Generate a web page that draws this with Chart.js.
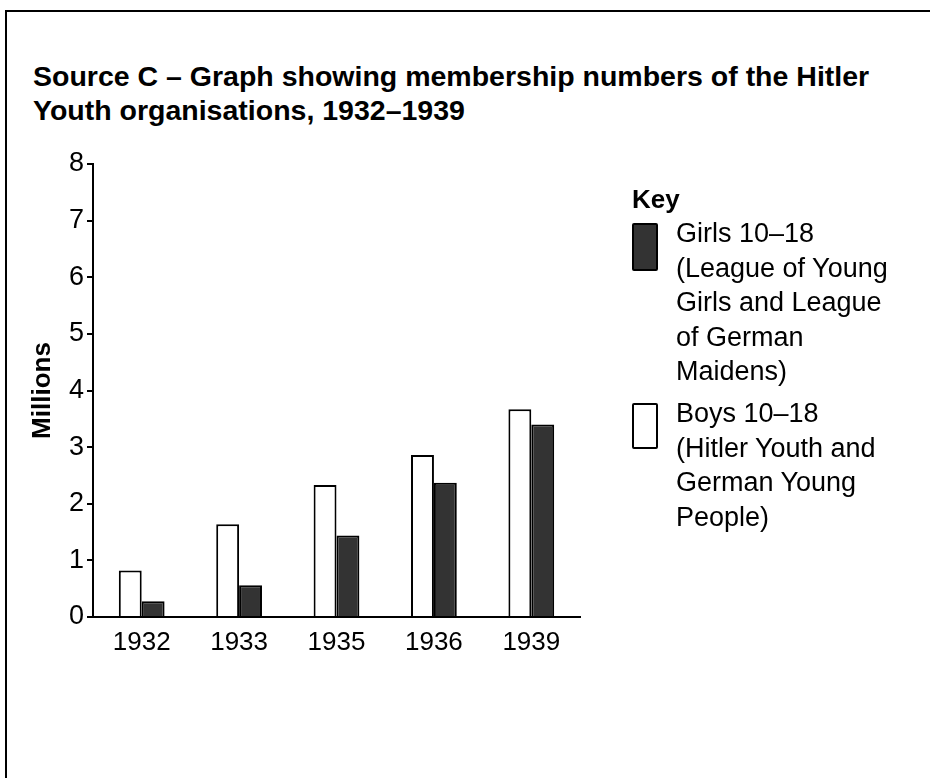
<!DOCTYPE html>
<html>
<head>
<meta charset="utf-8">
<script src="https://cdn.jsdelivr.net/npm/chart.js@4/dist/chart.umd.min.js"></script>
<style>
    html, body { margin: 0; padding: 0; background: #fff; }
    body { width: 930px; height: 778px; position: relative; overflow: hidden; font-family: "Liberation Sans", Arial, sans-serif; color: #000; }
    .frame { position: absolute; left: 5px; top: 10px; width: 940px; height: 800px; border-top: 2px solid #000; border-left: 2px solid #000; }
    .title { position: absolute; left: 33px; top: 59px; font-size: 28.5px; font-weight: bold; line-height: 34px; white-space: nowrap; }
    .chart-box { position: absolute; left: 0; top: 0; width: 930px; height: 778px; }
    .key-title { position: absolute; left: 632px; top: 184px; font-size: 26px; font-weight: bold; line-height: 30px; }
    .swatch { position: absolute; left: 632px; width: 22px; border: 2px solid #000; border-radius: 2px; }
    .key-text { position: absolute; left: 676px; font-size: 27px; line-height: 34.5px; white-space: nowrap; }
</style>
</head>
<body>
<div class="frame"></div>
<div class="title">Source C – Graph showing membership numbers of the Hitler<br>Youth organisations, 1932–1939</div>
<div class="chart-box"><canvas id="youthChart"></canvas></div>

<div class="key-title">Key</div>
<div class="swatch" style="top:223px;height:44px;background:#333;"></div>
<div class="key-text" style="top:216px;">Girls 10–18<br>(League of Young<br>Girls and League<br>of German<br>Maidens)</div>
<div class="swatch" style="top:403px;height:42px;background:#fff;"></div>
<div class="key-text" style="top:396px;">Boys 10–18<br>(Hitler Youth and<br>German Young<br>People)</div>

<script>
const years = ['1932', '1933', '1935', '1936', '1939'];
const boysMillions = [0.82, 1.64, 2.33, 2.86, 3.67];
const girlsMillions = [0.28, 0.56, 1.44, 2.37, 3.40];
const yTicks = [0, 1, 2, 3, 4, 5, 6, 7, 8];

const fontFamily = '"Liberation Sans", Arial, sans-serif';

new Chart(document.getElementById('youthChart'), {
    type: 'bar',
    data: {
        labels: years,
        datasets: [
            {
                label: 'Boys 10–18',
                data: boysMillions,
                backgroundColor: '#ffffff',
                borderColor: '#000000',
                borderWidth: 2
            },
            {
                label: 'Girls 10–18',
                data: girlsMillions,
                backgroundColor: '#333333',
                borderColor: '#000000',
                borderWidth: 2
            }
        ]
    },
    options: {
        responsive: true,
        maintainAspectRatio: false,
        animation: false,
        events: [],
        categoryPercentage: 0.47,
        barPercentage: 1.0,
        layout: {
            padding: { left: 20, right: 350, top: 164, bottom: 121 }
        },
        plugins: {
            legend: { display: false },
            tooltip: { enabled: false }
        },
        scales: {
            x: {
                grid: { display: false, drawTicks: false },
                border: { display: true, color: '#000', width: 2 },
                ticks: {
                    color: '#000',
                    padding: 10,
                    font: { family: fontFamily, size: 26 }
                },
                afterFit: (scale) => { scale.height = 40; }
            },
            y: {
                min: 0,
                max: 8,
                afterBuildTicks: (scale) => { scale.ticks = yTicks.map(v => ({ value: v })); },
                grid: {
                    drawOnChartArea: false,
                    drawTicks: true,
                    tickLength: 6,
                    color: '#000',
                    lineWidth: 2
                },
                border: { display: true, color: '#000', width: 2 },
                ticks: {
                    color: '#000',
                    padding: 3,
                    font: { family: fontFamily, size: 27 }
                },
                title: {
                    display: true,
                    text: 'Millions',
                    color: '#000',
                    padding: { top: 7, bottom: 0 },
                    font: { family: fontFamily, size: 26, weight: 'bold' }
                },
                afterFit: (scale) => { scale.width = 73; }
            }
        }
    }
});
</script>
</body>
</html>
